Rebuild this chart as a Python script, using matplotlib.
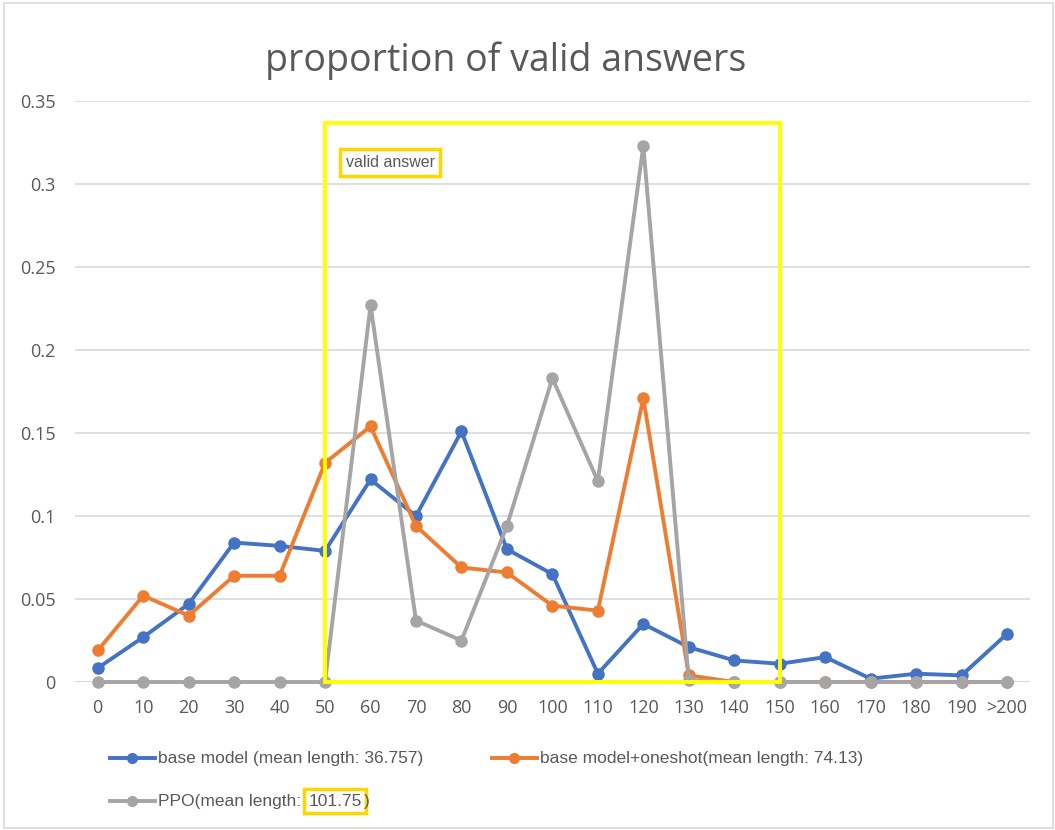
import matplotlib
matplotlib.use("Agg")
import matplotlib.pyplot as plt
from matplotlib.lines import Line2D
from matplotlib.patches import Rectangle

categories = ["0", "10", "20", "30", "40", "50", "60", "70", "80", "90", "100",
              "110", "120", "130", "140", "150", "160", "170", "180", "190", ">200"]
base_model = [0.0084, 0.027, 0.047, 0.084, 0.082, 0.079, 0.122, 0.100, 0.151, 0.080, 0.065,
              0.005, 0.035, 0.021, 0.013, 0.011, 0.015, 0.002, 0.005, 0.004, 0.029]
oneshot = [0.019, 0.052, 0.040, 0.064, 0.064, 0.132, 0.154, 0.094, 0.069, 0.066, 0.046,
           0.043, 0.171, 0.004, 0.0, 0.0, 0.0, 0.0, 0.0, 0.0, 0.0]
ppo = [0.0, 0.0, 0.0, 0.0, 0.0, 0.0, 0.227, 0.037, 0.025, 0.094, 0.183,
       0.121, 0.323, 0.001, 0.0, 0.0, 0.0, 0.0, 0.0, 0.0, 0.0]
series_names = ["base model (mean length: 36.757)",
                "base model+oneshot(mean length: 74.13)",
                "PPO(mean length: "]
ppo_highlight = "101.75"
colors = ["#4472C4", "#ED7D31", "#A5A5A5"]
valid_range = (5, 15)      # category index 50 .. 150
valid_top = 0.337

plt.rcParams['font.family'] = ['Open Sans', 'DejaVu Sans']
txt_color = "#595959"
leg_font = ['Liberation Sans', 'DejaVu Sans']

fig = plt.figure(figsize=(10.55, 8.3), dpi=100)
fig.patches.append(Rectangle((0.004, 0.002), 0.994, 0.994, transform=fig.transFigure,
                             fill=False, edgecolor="#D9D9D9", lw=1.2))
ax = fig.add_axes([0.0711, 0.1783, 0.905, 0.7])
x = list(range(len(categories)))
for vals, c in zip([base_model, oneshot, ppo], colors):
    ax.plot(x, vals, color=c, lw=2.8, marker='o', ms=8, solid_joinstyle='round', zorder=3,
            clip_on=False)

ax.set_xlim(-0.5, len(categories) - 0.5)
ax.set_ylim(0, 0.35)
ax.set_yticks([0, 0.05, 0.1, 0.15, 0.2, 0.25, 0.3, 0.35])
ax.set_yticklabels(["0", "0.05", "0.1", "0.15", "0.2", "0.25", "0.3", "0.35"])
ax.set_xticks(x)
ax.set_xticklabels(categories)
ax.tick_params(axis='both', length=0, labelsize=13, colors=txt_color, pad=12)
ax.tick_params(axis='y', pad=14)
ax.grid(axis='y', color="#D9D9D9", lw=1.2, zorder=0)
for s in ax.spines.values():
    s.set_visible(False)
ax.axhline(0, color="#D9D9D9", lw=1.2, zorder=1)

ax.add_patch(Rectangle((valid_range[0], 0), valid_range[1] - valid_range[0], valid_top,
                       fill=False, edgecolor="#FFFF00", lw=2.8, zorder=4, clip_on=False))
ax.text(5.45, 0.313, "valid answer", fontsize=11.5, color=txt_color, va='center', ha='left',
        family=leg_font,
        bbox=dict(boxstyle='square,pad=0.35', fc='white', ec="#FFD700", lw=2.5), zorder=5)

fig.text(0.479, 0.927, "proportion of valid answers", fontsize=27, color=txt_color,
         ha='center', va='center')

# legend (manual)
def leg_entry(x0, y0, color, label):
    fig.add_artist(Line2D([x0, x0 + 0.043], [y0, y0], color=color, lw=2.8,
                          transform=fig.transFigure))
    fig.add_artist(Line2D([x0 + 0.0215], [y0], color=color, marker='o', ms=7,
                          transform=fig.transFigure))
    return fig.text(x0 + 0.046, y0, label, fontsize=12.5, color=txt_color, va='center',
                    ha='left', family=leg_font)

leg_entry(0.104, 0.0867, colors[0], series_names[0])
leg_entry(0.466, 0.0867, colors[1], series_names[1])
t = leg_entry(0.104, 0.0349, colors[2], series_names[2])
fig.canvas.draw()
bb = t.get_window_extent(fig.canvas.get_renderer())
xpos = bb.x1 / fig.bbox.width
fig.text(xpos + 0.002, 0.0349, ppo_highlight, fontsize=12.5, color=txt_color, va='center',
         ha='left', family=leg_font,
         bbox=dict(boxstyle='square,pad=0.25', fc='none', ec="#FFD700", lw=2.5))
t2 = fig.text(xpos + 0.002, 0.0349, ppo_highlight, fontsize=12.5, color='none', va='center',
              ha='left', family=leg_font)
fig.canvas.draw()
bb2 = t2.get_window_extent(fig.canvas.get_renderer())
fig.text(bb2.x1 / fig.bbox.width + 0.002, 0.0349, ")", fontsize=12.5, color=txt_color,
         va='center', ha='left', family=leg_font)

fig.savefig("out.png", dpi=100)
